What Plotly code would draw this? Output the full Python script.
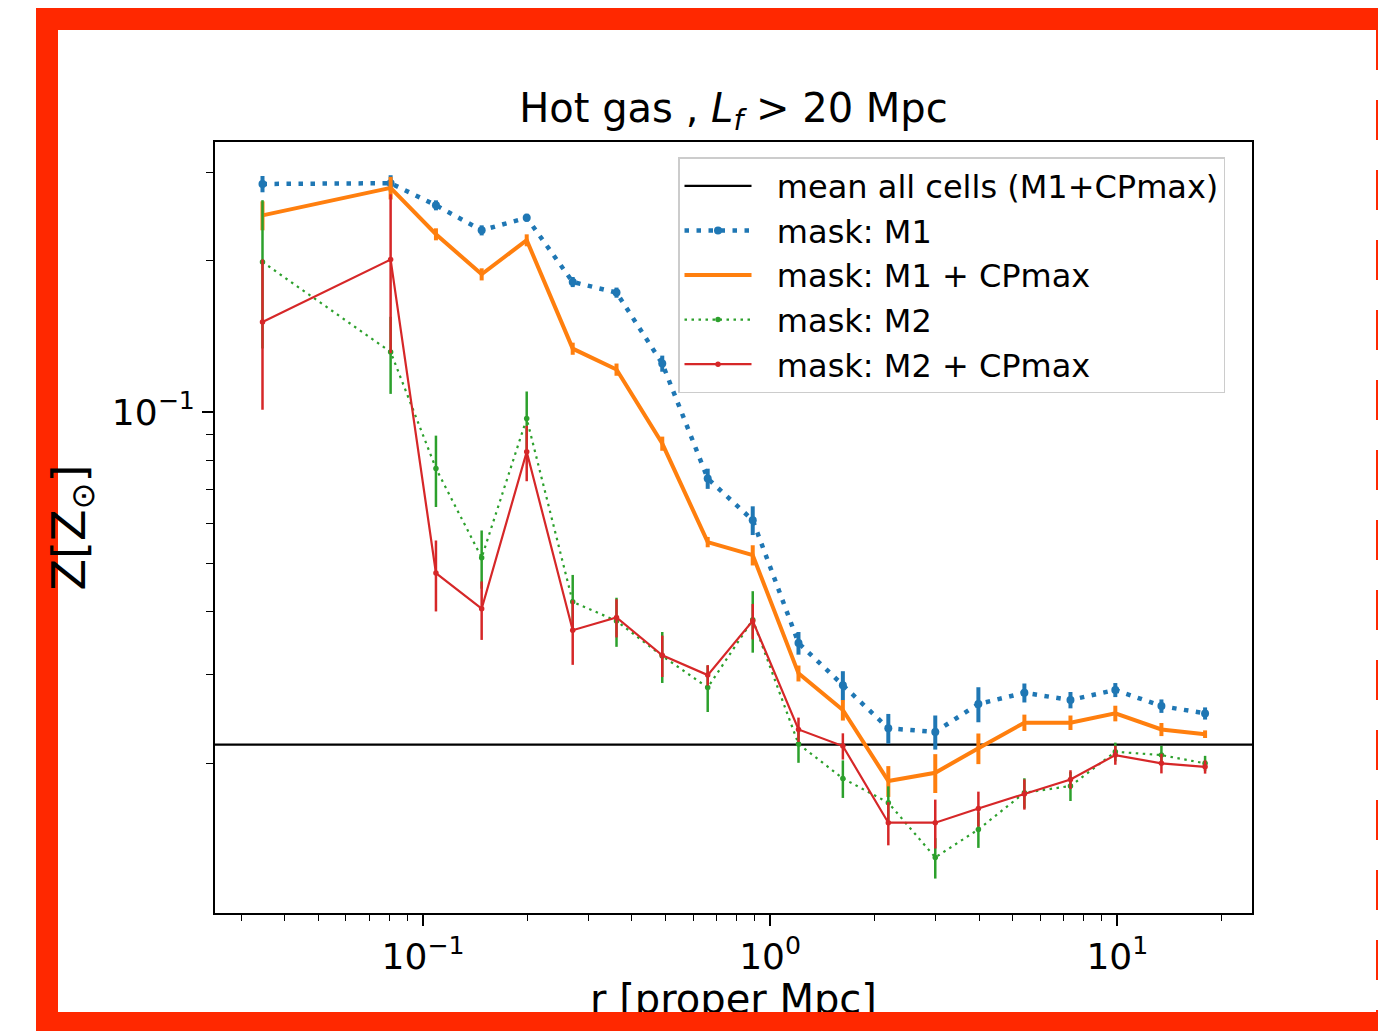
import plotly.graph_objects as go

# ---------------- data ----------------
r = [0.0345, 0.0807, 0.109, 0.1476, 0.199, 0.270, 0.361, 0.489, 0.661, 0.891,
     1.207, 1.62, 2.19, 2.99, 3.98, 5.40, 7.33, 9.87, 13.4, 17.9]

m1 = [0.284, 0.285, 0.2576, 0.2297, 0.2434, 0.1813, 0.1727, 0.1248, 0.0737, 0.0609,
      0.0347, 0.0286, 0.02348, 0.0231, 0.02624, 0.02763, 0.02673, 0.02799, 0.0260, 0.02514]
m1_err = [0.0106, 0.0106, 0.0059, 0.0053, 0.0045, 0.0042, 0.0040, 0.0046, 0.0034, 0.0040,
          0.0018, 0.0019, 0.0016, 0.0018, 0.0021, 0.0012, 0.0010, 0.0009, 0.0008, 0.0007]

m1_cp = [0.246, 0.279, 0.2256, 0.1878, 0.2195, 0.1336, 0.1214, 0.0865, 0.0551, 0.0519,
         0.0302, 0.02553, 0.01845, 0.01916, 0.02143, 0.0241, 0.0241, 0.02514, 0.02336, 0.02286]
m1_cp_err = [0.0163, 0.0144, 0.0062, 0.0052, 0.0060, 0.0037, 0.0034, 0.0028, 0.0013, 0.0024,
             0.0011, 0.0012, 0.0013, 0.0017, 0.0015, 0.0009, 0.0008, 0.0009, 0.0007, 0.0004]

m2 = [0.1987, 0.1316, 0.0772, 0.0513, 0.0970, 0.0419, 0.0384, 0.0327, 0.0283, 0.0386,
      0.02185, 0.01867, 0.0167, 0.0130, 0.01478, 0.01748, 0.01803, 0.02109, 0.02077, 0.0200]
m2_err = [0.065, 0.023, 0.0125, 0.0068, 0.0128, 0.0055, 0.0043, 0.0038, 0.0030, 0.0054,
          0.0018, 0.0016, 0.0013, 0.0012, 0.0012, 0.0012, 0.0012, 0.0009, 0.0009, 0.0007]

m2_cp = [0.151, 0.2009, 0.0478, 0.0406, 0.0833, 0.0368, 0.0390, 0.0328, 0.02996, 0.0384,
         0.02336, 0.02165, 0.01524, 0.01524, 0.01627, 0.01738, 0.01858, 0.02077, 0.0200, 0.01968]
m2_cp_err = [0.05, 0.07, 0.0077, 0.0054, 0.0105, 0.0054, 0.0034, 0.0031, 0.0014, 0.0031,
             0.0013, 0.0013, 0.0015, 0.0017, 0.0013, 0.0012, 0.0008, 0.0009, 0.0009, 0.0006]

mean_all = 0.0218

x_major = [0.1, 1, 10]
x_major_text = ["10<sup>−1</sup>", "10<sup>0</sup>", "10<sup>1</sup>"]
x_minor = [0.03, 0.04, 0.05, 0.06, 0.07, 0.08, 0.09,
           0.2, 0.3, 0.4, 0.5, 0.6, 0.7, 0.8, 0.9,
           2, 3, 4, 5, 6, 7, 8, 9, 20]
y_major = [0.1]
y_major_text = ["10<sup>−1</sup>"]
y_minor = [0.02, 0.03, 0.04, 0.05, 0.06, 0.07, 0.08, 0.09, 0.2, 0.3]

X_RANGE = [-1.599, 1.388]      # log10 axis limits
Y_RANGE = [-1.9966, -0.4632]

# ---------------- layout geometry (pixels) ----------------
W, H = 1378, 1031
ML, MR, MT, MB = 215, 126, 142, 10
PLOT_BOTTOM = 913                      # bottom of the main axes box
PAPER_W = W - ML - MR
PAPER_H = H - MT - MB


def px_x(p):
    return (p - ML) / PAPER_W


def px_y(p):
    return (H - MB - p) / PAPER_H


MAIN_Y_DOMAIN = [px_y(PLOT_BOTTOM), 1]
LABEL_Y_DOMAIN = [0, 0.1]

BLUE, ORANGE, GREEN, RED = "#1f77b4", "#ff7f0e", "#2ca02c", "#d62728"
FRAME = "rgb(255,40,0)"
FONT = "DejaVu Sans"
GAP = "\u00a0\u00a0"  # spacing between legend symbol and label

fig = go.Figure()

fig.add_trace(go.Scatter(
    x=r, y=m1, name=GAP + "mask: M1", mode="lines+markers",
    line=dict(color=BLUE, width=4.5, dash="4.5px,7.5px"),
    marker=dict(color=BLUE, size=8, symbol="circle"),
    error_y=dict(type="data", array=m1_err, color=BLUE, thickness=4, width=0),
    legendrank=2))

fig.add_trace(go.Scatter(
    x=r, y=m1_cp, name=GAP + "mask: M1 + CPmax", mode="lines",
    line=dict(color=ORANGE, width=4),
    error_y=dict(type="data", array=m1_cp_err, color=ORANGE, thickness=4, width=0),
    legendrank=3))

fig.add_trace(go.Scatter(
    x=r, y=m2, name=GAP + "mask: M2", mode="lines+markers",
    line=dict(color=GREEN, width=2.2, dash="2.5px,4.5px"),
    marker=dict(color=GREEN, size=5.5, symbol="circle"),
    error_y=dict(type="data", array=m2_err, color=GREEN, thickness=2.5, width=0),
    legendrank=4))

fig.add_trace(go.Scatter(
    x=r, y=m2_cp, name=GAP + "mask: M2 + CPmax", mode="lines+markers",
    line=dict(color=RED, width=2.2),
    marker=dict(color=RED, size=5.5, symbol="circle"),
    error_y=dict(type="data", array=m2_cp_err, color=RED, thickness=2.5, width=0),
    legendrank=5))

# x-axis label: text in a hidden strip below the axes, so the red frame covers its lower half
label_y = px_y(1003) / LABEL_Y_DOMAIN[1]
fig.add_trace(go.Scatter(
    x=[0.5], y=[label_y], xaxis="x2", yaxis="y2",
    mode="text", text=["r [proper Mpc]"], textposition="middle center",
    textfont=dict(family=FONT, size=40, color="black"),
    showlegend=False, hoverinfo="skip"))

# mean line across the full axis
fig.add_shape(type="line", xref="x domain", yref="y", x0=0, x1=1,
              y0=mean_all, y1=mean_all, line=dict(color="black", width=2.2),
              layer="below", showlegend=True,
              name=GAP + "mean all cells (M1+CPmax)", legendrank=1)

# red hand-drawn style frame (kept inside the page)
frame_path = "M {r},{t} L {l},{t} L {l},{b} L {r},{b}".format(
    l=px_x(47), r=px_x(W), t=px_y(19), b=px_y(1023))
fig.add_shape(type="path", xref="paper", yref="paper", path=frame_path,
              line=dict(color=FRAME, width=22), layer="above")
fig.add_shape(type="line", xref="paper", yref="paper",
              x0=px_x(1377), x1=px_x(1377), y0=px_y(30), y1=px_y(1015),
              line=dict(color=FRAME, width=2, dash="40px,30px"), layer="above")

axis_common = dict(
    type="log", showgrid=False, zeroline=False,
    showline=True, linecolor="black", linewidth=2, mirror=True,
    ticks="outside", ticklen=11, tickwidth=1.6, tickcolor="black",
    tickfont=dict(family=FONT, size=36, color="black"),
    tickmode="array",
)

fig.update_layout(
    width=W, height=H,
    margin=dict(l=ML, r=MR, t=MT, b=MB),
    paper_bgcolor="white", plot_bgcolor="white",
    font=dict(family=FONT, color="black"),
    title=dict(text="Hot gas , <i>L<sub>f</sub></i> > 20 Mpc",
               x=0.5, xanchor="center", xref="paper",
               y=1 - 108 / H, yanchor="middle", yref="container",
               font=dict(family=FONT, size=40, color="black")),
    xaxis=dict(**axis_common, range=X_RANGE, anchor="y",
               tickvals=x_major, ticktext=x_major_text,
               minor=dict(tickvals=x_minor, ticks="outside", ticklen=6,
                          tickwidth=1.3, tickcolor="black")),
    yaxis=dict(**axis_common, range=Y_RANGE, domain=MAIN_Y_DOMAIN, anchor="x",
               tickvals=y_major, ticktext=y_major_text,
               minor=dict(tickvals=y_minor, ticks="outside", ticklen=7,
                          tickwidth=1.3, tickcolor="black"),
               title=dict(text="Z[Z<sub>⊙</sub>]", standoff=12,
                          font=dict(family=FONT, size=46, color="black"))),
    xaxis2=dict(domain=[0, 1], anchor="y2", range=[0, 1], visible=False),
    yaxis2=dict(domain=LABEL_Y_DOMAIN, anchor="x2", range=[0, 1], visible=False),
    legend=dict(x=px_x(678), y=px_y(157), xanchor="left", yanchor="top",
                bgcolor="rgba(255,255,255,0.8)", bordercolor="#cccccc",
                borderwidth=1.5, itemwidth=67,
                font=dict(family=FONT, size=32, color="black")),
    showlegend=True,
)

fig.write_html("out.html")
